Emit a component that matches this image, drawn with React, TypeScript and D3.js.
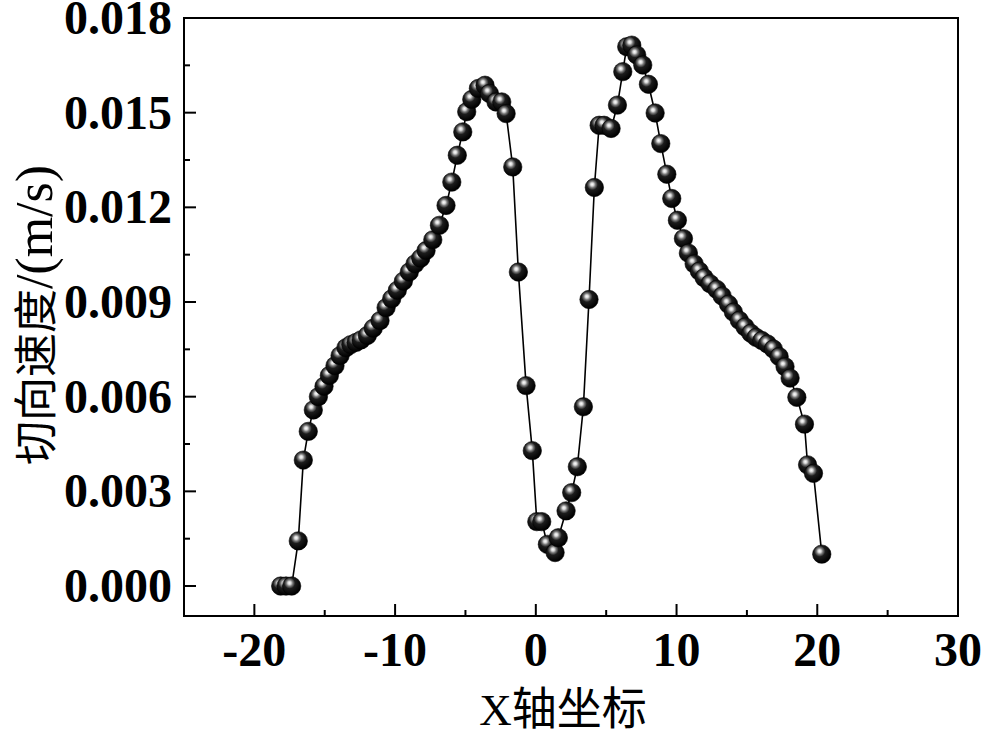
import React, { useEffect, useRef } from "react";
import * as d3 from "d3";

const xValues: number[] = [
  -18.13, -17.75, -17.35, -16.88, -16.52, -16.17, -15.81, -15.45, -15.05, -14.67,
  -14.27, -13.91, -13.49, -13.15, -12.78, -12.42, -11.97, -11.55, -11.07, -10.64,
  -10.24, -9.84, -9.41, -8.99, -8.58, -8.18, -7.8, -7.32, -6.85, -6.38,
  -5.97, -5.58, -5.19, -4.91, -4.55, -4.08, -3.61, -3.3, -2.83, -2.42,
  -2.11, -1.64, -1.24, -0.69, -0.25, 0.07, 0.42, 0.82, 1.37, 1.6,
  2.15, 2.55, 2.95, 3.38, 3.78, 4.16, 4.5, 4.85, 5.35, 5.8,
  6.18, 6.46, 6.82, 7.17, 7.6, 8.0, 8.48, 8.88, 9.31, 9.66,
  10.06, 10.49, 10.84, 11.25, 11.62, 11.96, 12.38, 12.86, 13.24, 13.69,
  14.04, 14.46, 14.87, 15.28, 15.65, 16.06, 16.46, 16.88, 17.29, 17.71,
  18.07, 18.55, 19.09, 19.31, 19.73, 20.32,
];

const velocity: number[] = [
  0.0, 0.0, 0.0, 0.00143, 0.00399, 0.0049, 0.00558, 0.006, 0.00633, 0.00667,
  0.00698, 0.0073, 0.00755, 0.00765, 0.00772, 0.0078, 0.00794, 0.00817, 0.00841, 0.00882,
  0.0091, 0.00937, 0.00966, 0.00995, 0.01021, 0.01039, 0.01063, 0.01097, 0.01143, 0.01206,
  0.0128, 0.01365, 0.01439, 0.01503, 0.01542, 0.01577, 0.01587, 0.01561, 0.01534, 0.01534,
  0.01497, 0.01328, 0.00995, 0.00635, 0.00429, 0.00204, 0.00204, 0.00132, 0.00106, 0.00153,
  0.00238, 0.00296, 0.00378, 0.00568, 0.00908, 0.01263, 0.0146, 0.0146, 0.0145, 0.01524,
  0.0163, 0.01709, 0.01714, 0.01683, 0.01651, 0.0159, 0.01499, 0.01402, 0.01305, 0.01228,
  0.01159, 0.01101, 0.01055, 0.01021, 0.00998, 0.00977, 0.00958, 0.0094, 0.00919, 0.00893,
  0.00868, 0.00842, 0.00821, 0.00801, 0.00788, 0.00778, 0.00767, 0.00751, 0.00727, 0.00695,
  0.00659, 0.00598, 0.00513, 0.00384, 0.00357, 0.00101,
];

const xTicks: number[] = [-20, -10, 0, 10, 20, 30];
const xMinorTicks: number[] = [-15, -5, 5, 15, 25];
const yTicks: number[] = [0, 0.003, 0.006, 0.009, 0.012, 0.015, 0.018];
const yMinorTicks: number[] = [0.0015, 0.0045, 0.0075, 0.0105, 0.0135, 0.0165];

const xTitleCJK = "轴坐标";
const xTitleLatin = "X";
const yTitleCJK = "切向速度";
const yTitleLatin = "/(m/s)";

const W = 991;
const H = 738;
const M = { left: 184, right: 958, top: 18, bottom: 616 };

export default function App() {
  const ref = useRef<SVGSVGElement | null>(null);

  useEffect(() => {
    const svg = d3.select(ref.current);
    svg.selectAll("*").remove();

    const x = d3.scaleLinear().domain([-25, 30]).range([M.left, M.right]);
    const y = d3.scaleLinear().domain([-0.00095, 0.018]).range([M.bottom, M.top]);

    const defs = svg.append("defs");
    const grad = defs
      .append("radialGradient")
      .attr("id", "ball")
      .attr("cx", "40%")
      .attr("cy", "36%")
      .attr("r", "62%")
      .attr("fx", "38%")
      .attr("fy", "33%");
    grad.append("stop").attr("offset", "0%").attr("stop-color", "#ffffff");
    grad.append("stop").attr("offset", "14%").attr("stop-color", "#d8d8d8");
    grad.append("stop").attr("offset", "28%").attr("stop-color", "#7a7a7a");
    grad.append("stop").attr("offset", "48%").attr("stop-color", "#1c1c1c");
    grad.append("stop").attr("offset", "100%").attr("stop-color", "#000000");

    const font = "'Liberation Serif', 'Times New Roman', serif";
    const cjkFont = "'Noto Sans CJK SC', sans-serif";

    svg
      .append("rect")
      .attr("x", M.left)
      .attr("y", M.top)
      .attr("width", M.right - M.left)
      .attr("height", M.bottom - M.top)
      .attr("fill", "none")
      .attr("stroke", "#000")
      .attr("stroke-width", 2);

    const g = svg.append("g").attr("stroke", "#000").attr("stroke-width", 2);
    xTicks.forEach((t) => {
      g.append("line")
        .attr("x1", x(t)).attr("x2", x(t))
        .attr("y1", M.bottom).attr("y2", M.bottom - 12);
    });
    xMinorTicks.forEach((t) => {
      g.append("line")
        .attr("x1", x(t)).attr("x2", x(t))
        .attr("y1", M.bottom).attr("y2", M.bottom - 6);
    });
    yTicks.forEach((t) => {
      g.append("line")
        .attr("x1", M.left).attr("x2", M.left + 12)
        .attr("y1", y(t)).attr("y2", y(t));
    });
    yMinorTicks.forEach((t) => {
      g.append("line")
        .attr("x1", M.left).attr("x2", M.left + 6)
        .attr("y1", y(t)).attr("y2", y(t));
    });

    svg
      .append("g")
      .selectAll("text")
      .data(xTicks)
      .join("text")
      .attr("x", (d) => x(d))
      .attr("y", 666)
      .attr("text-anchor", "middle")
      .attr("font-family", font)
      .attr("font-weight", "bold")
      .attr("font-size", 48)
      .text((d) => String(d));

    svg
      .append("g")
      .selectAll("text")
      .data(yTicks)
      .join("text")
      .attr("x", 172)
      .attr("y", (d) => y(d) + 16)
      .attr("text-anchor", "end")
      .attr("font-family", font)
      .attr("font-weight", "bold")
      .attr("font-size", 48)
      .text((d) => d3.format(".3f")(d));

    const xt = svg
      .append("text")
      .attr("x", 563)
      .attr("y", 725)
      .attr("text-anchor", "middle")
      .attr("font-size", 45);
    xt.append("tspan").attr("font-family", font).text(xTitleLatin);
    xt.append("tspan").attr("font-family", cjkFont).text(xTitleCJK);

    const yt = svg
      .append("text")
      .attr("transform", `translate(52, 315) rotate(-90)`)
      .attr("text-anchor", "middle")
      .attr("font-size", 52);
    yt.append("tspan").attr("font-family", cjkFont).attr("font-size", 44).text(yTitleCJK);
    yt.append("tspan").attr("font-family", font).text(yTitleLatin);

    const pts = xValues.map((v, i) => [v, velocity[i]] as [number, number]);
    const line = d3
      .line<[number, number]>()
      .x((d) => x(d[0]))
      .y((d) => y(d[1]));
    svg
      .append("path")
      .datum(pts)
      .attr("d", line)
      .attr("fill", "none")
      .attr("stroke", "#000")
      .attr("stroke-width", 1.6);

    svg
      .append("g")
      .selectAll("circle")
      .data(pts)
      .join("circle")
      .attr("cx", (d) => x(d[0]))
      .attr("cy", (d) => y(d[1]))
      .attr("r", 9.2)
      .attr("fill", "url(#ball)")
      .attr("stroke", "#000")
      .attr("stroke-width", 0.6);
  }, []);

  return (
    <svg
      ref={ref}
      width={W}
      height={H}
      style={{ position: "absolute", left: 0, top: 0, background: "#fff" }}
    />
  );
}
